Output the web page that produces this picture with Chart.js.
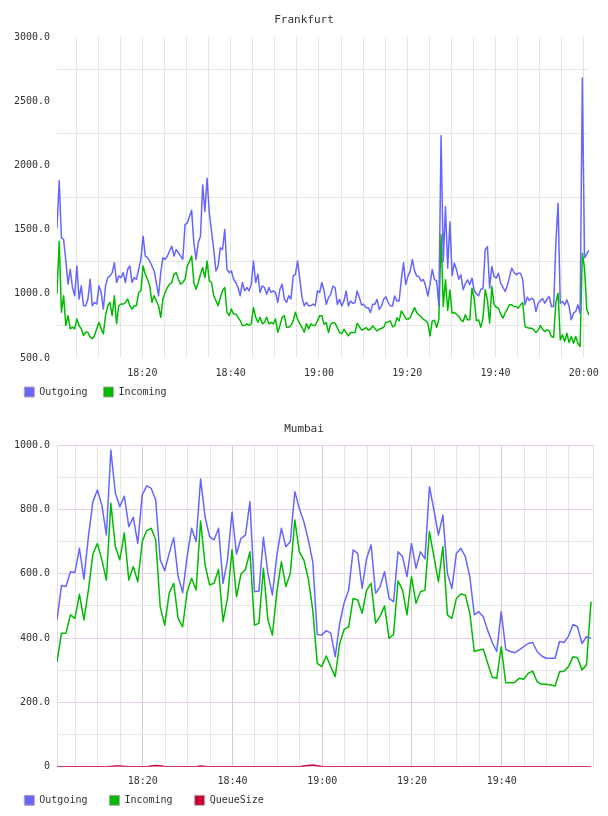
<!DOCTYPE html>
<html><head><meta charset="utf-8">
<script src="https://cdn.jsdelivr.net/npm/chart.js@4/dist/chart.umd.min.js"></script>
<style>
html,body{margin:0;padding:0;background:#fff;width:608px;height:816px;overflow:hidden}
canvas{position:absolute;left:0}
#c1{top:0}
#c2{top:407px}
</style></head><body>
<canvas id="c1" width="608" height="407"></canvas>
<canvas id="c2" width="608" height="409"></canvas>
<script>
// ---------- Frankfurt: samples every 30 s, first at 18:00:40 (minutes after 18:00) ----------
const fraStartMin = 0.667;
const fraStepMin = 0.5;
const fraOutgoing = [
1510,1880,1436,1423,1255,1075,1191,1049,985,1217,
959,1062,907,907,959,1113,907,933,920,1062,
1010,881,1062,1126,1139,1165,1242,1088,1139,1126,
1165,1088,1191,1217,1088,1126,1113,1191,1268,1449,
1294,1281,1255,1217,1178,1088,985,1165,1281,1268,
1294,1333,1371,1294,1345,1320,1294,1268,1539,1551,
1600,1650,1397,1268,1397,1449,1848,1642,1900,1630,
1487,1345,1178,1217,1358,1345,1500,1191,1165,1178,
1113,1088,1049,985,1088,1023,1049,1023,1075,1256,
1088,1152,1010,1062,1049,997,1049,1010,1023,1010,
933,1036,1075,959,933,985,959,1139,1152,1256,
1113,972,907,933,907,907,920,907,1023,1010,
1088,1021,918,970,996,1060,1047,918,957,905,
944,1021,905,944,926,931,1021,970,913,918,
892,892,853,918,918,957,879,905,957,977,
936,905,905,983,944,944,1112,1241,1073,1138,
1177,1267,1177,1138,1133,1099,1112,1060,983,1073,
1190,1112,1099,905,2230,1250,1680,1200,1560,1140,
1240,1187,1114,1148,1031,1078,1109,1070,1122,1026,
1000,984,1036,1040,1342,1368,1044,1213,1135,1122,
1161,1083,1052,1018,1062,1130,1200,1168,1148,1161,
1161,1109,914,974,948,966,953,862,927,945,
963,927,958,979,901,901,1394,1706,927,940,
914,953,901,797,849,862,914,849,2680,1280,
1310,1340];
const fraIncoming = [
1000,1410,856,985,753,830,727,740,727,804,
753,727,675,701,701,663,650,675,727,778,
727,688,830,907,933,830,985,766,907,920,
920,933,959,907,881,907,907,1010,1023,1217,
1152,1113,1062,933,985,946,907,817,959,1010,
1049,1075,1088,1152,1165,1113,1075,1088,1113,1217,
1250,1294,1088,1036,1088,1152,1204,1126,1255,1100,
1088,985,946,907,972,1023,1049,856,830,881,
843,843,817,791,753,753,766,753,766,894,
817,778,817,766,778,817,766,778,766,804,
701,753,817,830,740,740,753,791,856,804,
766,740,701,766,727,766,753,753,791,830,
830,763,776,698,763,776,770,737,698,690,
724,698,672,698,698,698,770,744,718,724,
737,718,724,750,729,711,724,732,737,776,
781,789,744,750,814,789,866,840,806,801,
814,853,892,853,835,822,801,791,770,672,
789,794,737,801,1460,900,1110,870,1030,850,
855,841,823,797,784,836,797,797,1044,966,
790,797,740,813,1031,953,771,1057,918,895,
888,843,810,849,880,914,914,901,901,888,
914,932,745,737,732,732,719,698,719,753,
724,706,719,711,667,662,932,1005,641,680,
628,693,620,667,615,667,615,589,1316,1200,
880,835];
const fraAxisMin = 0.667, fraAxisMax = 121.17;

// ---------- Mumbai: samples every minute, first at 18:00:54 ----------
const mumStartMin = 0.9;
const mumStepMin = 1;
const mumOutgoing = [
456,563,560,606,604,679,583,715,824,860,
813,720,984,850,808,841,746,775,694,845,
873,865,829,643,609,663,712,591,541,653,
741,700,894,777,715,705,741,570,643,791,
661,710,720,824,544,546,713,601,534,658,
741,684,700,855,803,762,705,637,411,409,
423,415,342,446,510,549,674,663,554,648,
689,539,560,606,523,513,668,653,591,694,
617,668,646,870,798,720,782,601,554,663,
679,653,591,472,482,466,423,386,358,482,
365,358,354,363,373,383,386,358,344,337,
337,337,389,386,406,442,435,383,404,399];
const mumIncoming = [
326,415,415,472,461,536,456,549,661,694,
643,580,819,684,643,727,580,622,575,700,
734,741,705,497,440,539,570,460,435,544,
586,549,764,627,565,570,613,451,523,674,
528,599,613,668,440,446,617,456,409,544,
637,560,601,767,668,643,585,487,321,311,
344,311,280,383,427,435,523,518,477,549,
570,446,468,500,399,411,578,549,472,591,
508,544,549,731,653,575,684,472,461,523,
537,534,477,358,363,365,321,278,275,373,
261,261,262,275,272,290,297,264,256,256,
254,251,295,297,311,342,339,301,316,513];
const mumQueueSize = [
0,0,0,0,0,0,0,0,0,0,
0,0,1,2,2,1,0,0,0,0,
0,2,4,3,0,0,0,0,0,0,
0,0,2,1,0,0,0,0,0,0,
0,0,0,0,0,0,0,0,0,0,
0,0,0,0,0,2,4,5,3,1,
0,0,0,0,0,0,0,0,0,0,
0,0,0,0,0,0,0,0,0,0,
0,0,0,0,0,0,0,0,0,0,
0,0,0,0,0,0,0,0,0,0,
0,0,0,0,0,0,0,0,0,0,
0,0,0,0,0,0,0,0,0,0];
const mumAxisMin = 0.9, mumAxisMax = 120.35;

const seriesNames = ['Outgoing','Incoming','QueueSize'];
const seriesColors = ['#6666ff','#00bb00','#cc0033'];
const fraYTicks = [500,750,1000,1250,1500,1750,2000,2250,2500,2750,3000];
const mumYTicks = [0,100,200,300,400,500,600,700,800,900,1000];
const baseHour = 18;

// ---------- helpers ----------
const MONO = 'DejaVu Sans Mono';
function points(start, step, vals){ return vals.map((v,i)=>({x: start + i*step, y: v})); }
function timeLabel(v){ const m=Math.round(v); return (baseHour+Math.floor(m/60))+':'+String(m%60).padStart(2,'0'); }
function genLabels(chart){
  return chart.data.datasets.map((ds,i)=>({text: ds.label, fillStyle: ds.borderColor, strokeStyle:'#aaaaaa',
    lineWidth:1, hidden:false, datasetIndex:i, fontColor:'#333'}));
}
const centerTitle = {
  id:'centerTitle',
  afterDraw(chart, args, opts){
    const c = chart.ctx; c.save();
    c.font = '11px "'+MONO+'"'; c.fillStyle = '#333'; c.textAlign='center'; c.textBaseline='middle';
    c.fillText(opts.text, chart.width/2, opts.y); c.restore();
  }
};
// let the x tick labels extend into the legend's top padding (no clipping)
const labelRoom = {
  id:'labelRoom',
  afterLayout(chart){ const s = chart.scales.x; s.bottom = s.top + 26; }
};

function makeChart(el, o){
  const datasets = o.series.map((vals,i)=>({
    label: seriesNames[i], data: points(o.start, o.step, vals),
    borderColor: seriesColors[i], backgroundColor: seriesColors[i],
    borderWidth: 1.5, pointRadius: 0, tension: 0, fill: false, borderJoinStyle: 'round'
  }));
  return new Chart(document.getElementById(el), {
    type: 'line',
    data: { datasets },
    plugins: [centerTitle, labelRoom],
    options: {
      responsive:false, animation:false, devicePixelRatio:1,
      layout:{ padding:{ left:o.padLeft, right:15, top:o.top, bottom:o.padBottom } },
      plugins:{
        centerTitle:{ text:o.title, y:o.titleY },
        title:{display:false},
        tooltip:{enabled:false},
        legend:{ position:'bottom', align:'start',
          labels:{ boxWidth:10, boxHeight:10, padding:o.legendPad, color:'#333',
            font:{family:MONO, size:10}, generateLabels: genLabels } }
      },
      scales:{
        x:{ type:'linear', min:o.xMin, max:o.xMax,
          afterBuildTicks: s => {
            const t=[]; if (o.frame) t.push({value:o.xMin});
            for (let v=5; v<=o.xMax-o.xEndGap; v+=5) if (v>o.xMin) t.push({value:v});
            if (o.frame) t.push({value:o.xMax});
            s.ticks = t;
          },
          afterFit: s => { s.height = o.xHeight; },
          grid:{ drawTicks:false, lineWidth:1,
            color: c => {
              const v = c.tick ? c.tick.value : 0;
              if (!o.frame) return '#e6e6e6';
              if (v===o.xMin || v===o.xMax) return '#ecd6ec';
              return v%20===0 ? '#dcc6dc' : '#e6e6e6';
            } },
          border:{ display:o.frame, color:'#ecd6ec' },
          ticks:{ padding:o.xPad, maxRotation:0, autoSkip:false, color:'#333', font:{family:MONO,size:10},
            callback: v => (v%20===0 ? timeLabel(v) : '') }
        },
        y:{ type:'linear', min:o.yTicks[0], max:o.yTicks[o.yTicks.length-1],
          afterBuildTicks: s => { s.ticks = o.yTicks.map(v=>({value:v})); },
          afterFit: s => { s.width = 57 - o.padLeft; },
          grid:{ drawTicks:false, lineWidth:1,
            color: c => {
              const v = c.tick ? c.tick.value : 0;
              if (!o.frame) return (v%500===0) ? 'rgba(0,0,0,0)' : '#e6e6e6';
              return v%200===0 ? '#ead0ea' : '#e6e6e6';
            } },
          border:{ display:o.frame, color:'#ecd6ec' },
          ticks:{ padding:7, autoSkip:false, color:'#333', font:{family:MONO,size:10},
            callback: v => (v%o.labelEvery===0 ? (v===0 ? '0' : v.toFixed(1)) : '') }
        }
      }
    }
  });
}

makeChart('c1', { title:'Frankfurt', titleY:20.5, top:37, padLeft:8.3, padBottom:0, legendPad:16,
  start:fraStartMin, step:fraStepMin, series:[fraOutgoing, fraIncoming],
  xMin:fraAxisMin, xMax:fraAxisMax, xEndGap:0, xHeight:13, xPad:9,
  yTicks:fraYTicks, labelEvery:500, frame:false });

makeChart('c2', { title:'Mumbai', titleY:22.3, top:38, padLeft:2.3, padBottom:0.7, legendPad:22,
  start:mumStartMin, step:mumStepMin, series:[mumOutgoing, mumIncoming, mumQueueSize],
  xMin:mumAxisMin, xMax:mumAxisMax, xEndGap:1, xHeight:6.6, xPad:8.3,
  yTicks:mumYTicks, labelEvery:200, frame:true });
</script></body></html>
